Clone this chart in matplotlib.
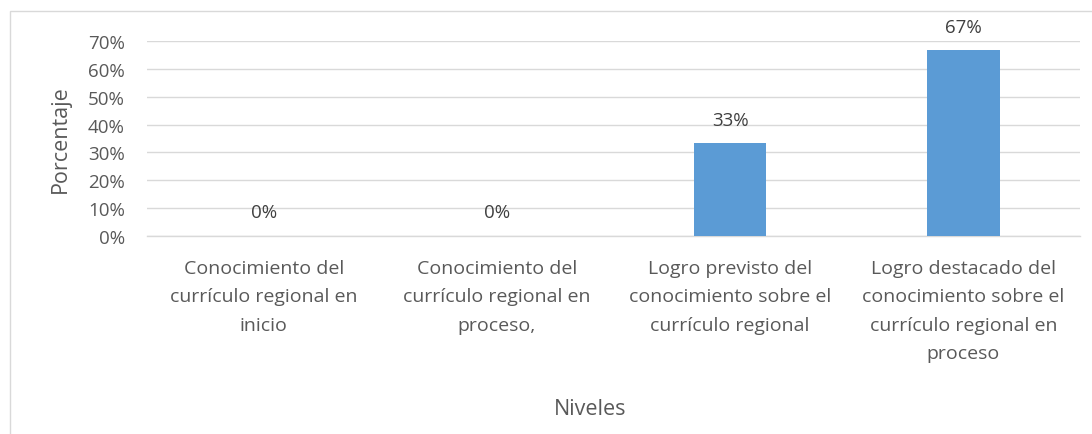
import matplotlib
matplotlib.use("Agg")
import matplotlib.pyplot as plt
from matplotlib.patches import Rectangle
from matplotlib.ticker import FuncFormatter

categories = [
    "Conocimiento del\ncurrículo regional en\ninicio",
    "Conocimiento del\ncurrículo regional en\nproceso,",
    "Logro previsto del\nconocimiento sobre el\ncurrículo regional",
    "Logro destacado del\nconocimiento sobre el\ncurrículo regional en\nproceso",
]
values = [0.0, 0.0, 0.3333, 0.6667]
value_labels = ["0%", "0%", "33%", "67%"]
y_ticks = [0.0, 0.1, 0.2, 0.3, 0.4, 0.5, 0.6, 0.7]

plt.rcParams['font.family'] = ['Open Sans', 'DejaVu Sans']

W, H = 1092, 435
fig = plt.figure(figsize=(W / 100, H / 100), dpi=100)
fig.patch.set_facecolor('white')

# outer chart border
fig.patches.append(Rectangle((9.5 / W, -0.05), 1.1, 1 - 12 / H + 0.05,
                             transform=fig.transFigure, fill=False,
                             edgecolor='#d9d9d9', linewidth=1.0))

left, right = 147 / W, 1080 / W
bottom, top = 1 - 237 / H, 1 - 42 / H
ax = fig.add_axes([left, bottom, right - left, top - bottom])

x = list(range(len(categories)))
bars = ax.bar(x, values, width=0.31, color='#5b9bd5', zorder=3)
ax.set_xlim(-0.5, len(categories) - 0.5)
ax.set_ylim(0, 0.7)
ax.set_yticks(y_ticks)
ax.yaxis.set_major_formatter(FuncFormatter(lambda v, p: f"{v*100:.0f}%"))
ax.set_xticks(x)
ax.set_xticklabels(categories, linespacing=1.74)

for s in ['top', 'right', 'left']:
    ax.spines[s].set_visible(False)
ax.spines['bottom'].set_color('#d9d9d9')
ax.spines['bottom'].set_linewidth(1.0)
ax.spines['bottom'].set_zorder(2)
ax.grid(axis='y', color='#d9d9d9', linewidth=1.0, zorder=0)
ax.set_axisbelow(True)

ax.tick_params(axis='y', length=0, pad=16, labelsize=13.5, labelcolor='#595959')
ax.tick_params(axis='x', length=0, pad=16.5, labelsize=14, labelcolor='#595959')

for xi, v, lab in zip(x, values, value_labels):
    ax.annotate(lab, (xi, v), xytext=(0, 17), textcoords='offset points',
                ha='center', va='center', fontsize=13.5, color='#404040')

ax.set_ylabel("Porcentaje", fontsize=15.5, color='#595959')
ax.yaxis.set_label_coords(-0.093, 0.5)
ax.set_xlabel("Niveles", fontsize=15.5, color='#595959')
ax.xaxis.set_label_coords(0.475, -0.887)
ax.xaxis.label.set_va('center')
ax.yaxis.label.set_va('center')

fig.savefig("out.png", dpi=100, facecolor='white')
